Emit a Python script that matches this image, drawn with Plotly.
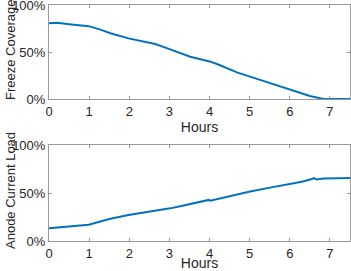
import plotly.graph_objects as go
from plotly.subplots import make_subplots

hours_top = [0, 0.2, 0.5, 0.99, 1.3, 1.53, 1.98, 2.3, 2.65, 3.02, 3.3, 3.52, 3.8, 4.02, 4.2, 4.43, 4.7, 5.01, 5.51, 6.01, 6.5, 6.84, 7.0, 7.5]
freeze = [80.5, 81, 79.5, 77.5, 73.5, 70, 64.5, 61.5, 58.5, 52.8, 48, 45, 42, 39.7, 37, 32.6, 28, 23.8, 16.7, 9.6, 3.2, 0, 0, 0]

hours_bot = [0, 0.2, 0.5, 0.99, 1.3, 1.53, 1.98, 2.3, 2.65, 3.02, 3.3, 3.52, 3.8, 3.95, 3.98, 4.02, 4.43, 4.7, 5.01, 5.51, 6.01, 6.3, 6.55, 6.6, 6.67, 6.84, 7.2, 7.5]
anode = [13.2, 13.9, 15.0, 17.0, 20.5, 23.2, 27.0, 29.2, 31.0, 34.0, 36.5, 38.6, 41.0, 42.0, 42.8, 42.0, 46.2, 48.8, 51.6, 55.6, 59.2, 61.8, 64.6, 65.6, 64.0, 65.2, 65.4, 65.5]

x_ticks = [0, 1, 2, 3, 4, 5, 6, 7]
y_ticks = [0, 50, 100]
y_labels = ["0%", "50%", "100%"]
y_titles = ["Freeze Coverage", "Anode Current Load"]

blue = "#0072BD"
axis_col = "#9a9a9a"
text_col = "#262626"
font = "Liberation Sans, Arial, sans-serif"

L, R, T, B = 49, 1, 5, 30
W, H = 351, 271

fig = make_subplots(rows=2, cols=1)
fig.add_trace(go.Scatter(x=hours_top, y=freeze, mode="lines", line=dict(color=blue, width=2)), row=1, col=1)
fig.add_trace(go.Scatter(x=hours_bot, y=anode, mode="lines", line=dict(color=blue, width=2)), row=2, col=1)

for r in (1, 2):
    fig.update_xaxes(row=r, col=1, range=[0, 7.5], tickvals=x_ticks, ticks="inside", ticklen=3,
                     tickcolor=axis_col, showline=True, linecolor=axis_col, linewidth=1, mirror="ticks",
                     showgrid=False, zeroline=False, automargin=False, ticklabeloverflow="allow",
                     title=dict(text="Hours", standoff=1, font=dict(size=14, color=text_col)),
                     tickfont=dict(size=13, color=text_col))
    fig.update_yaxes(row=r, col=1, range=[0, 100], tickvals=y_ticks, ticktext=y_labels, ticks="inside",
                     ticklen=3, tickcolor=axis_col, showline=True, linecolor=axis_col, linewidth=1,
                     mirror="ticks", showgrid=False, zeroline=False, automargin=False,
                     ticklabeloverflow="allow",
                     tickfont=dict(size=13, color=text_col))

def py(pix):
    return (H - B - pix) / (H - T - B)

top_dom = [py(99), 1]
bot_dom = [0, py(145)]

annotations = []
for ypix, txt in [(50, y_titles[0]), (191, y_titles[1])]:
    annotations.append(dict(text=txt, xref="paper", yref="paper",
                            x=(10 - L) / (W - L - R), y=py(ypix),
                            textangle=-90, showarrow=False, xanchor="center", yanchor="middle",
                            font=dict(size=13, color=text_col)))

fig.update_layout(
    width=W, height=H, showlegend=False,
    margin=dict(l=L, r=R, t=T, b=B, autoexpand=False),
    plot_bgcolor="white", paper_bgcolor="white",
    font=dict(family=font, color=text_col),
    xaxis=dict(domain=[0, 1]), xaxis2=dict(domain=[0, 1]),
    yaxis=dict(domain=top_dom), yaxis2=dict(domain=bot_dom),
    annotations=annotations,
)

fig.write_html("out.html", config={"displayModeBar": False},
               post_script="document.body.style.margin='0';")
